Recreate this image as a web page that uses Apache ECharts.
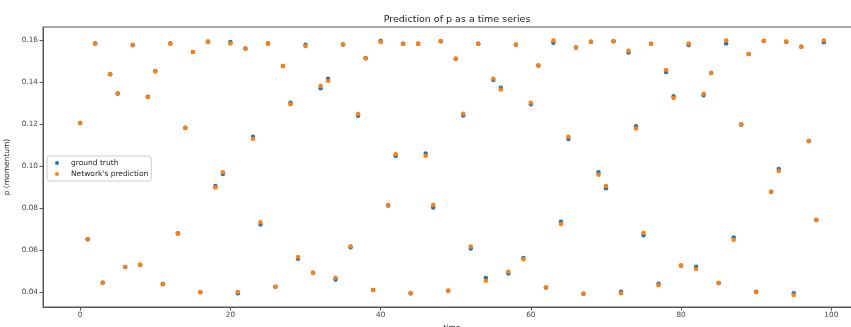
<!DOCTYPE html>
<html>
<head>
<meta charset="utf-8">
<script src="https://cdn.jsdelivr.net/npm/echarts@6/dist/echarts.min.js"></script>
<style>
html,body{margin:0;padding:0;background:#fff;}
#main{width:851px;height:327px;}
</style>
</head>
<body>
<div id="main"></div>
<script>
// p (momentum) values, one per time step 0..99
const groundTruth = [
  0.1205,0.0652,0.1583,0.0444,0.1437,0.1346,0.0519,0.1576,0.0530,0.1330,
  0.1451,0.0438,0.1584,0.0680,0.1182,0.1543,0.0399,0.1592,0.0905,0.0962,
  0.1590,0.0394,0.1560,0.1140,0.0722,0.1584,0.0425,0.1476,0.1301,0.0559,
  0.1578,0.0492,0.1370,0.1416,0.0460,0.1579,0.0614,0.1240,0.1513,0.0410,
  0.1595,0.0812,0.1048,0.1582,0.0394,0.1582,0.1060,0.0803,0.1594,0.0406,
  0.1511,0.1241,0.0608,0.1582,0.0467,0.1410,0.1373,0.0489,0.1578,0.0562,
  0.1294,0.1479,0.0422,0.1587,0.0735,0.1129,0.1564,0.0392,0.1592,0.0971,
  0.0894,0.1594,0.0402,0.1541,0.1189,0.0670,0.1582,0.0440,0.1448,0.1332,
  0.0527,0.1576,0.0521,0.1337,0.1443,0.0443,0.1584,0.0660,0.1198,0.1533,
  0.0402,0.1595,0.0878,0.0986,0.1592,0.0394,0.1568,0.1119,0.0743,0.1589
];
const prediction = [
  0.1205,0.0652,0.1583,0.0444,0.1437,0.1346,0.0519,0.1575,0.0530,0.1329,
  0.1451,0.0437,0.1584,0.0678,0.1181,0.1543,0.0399,0.1593,0.0898,0.0970,
  0.1584,0.0401,0.1560,0.1130,0.0733,0.1584,0.0425,0.1476,0.1294,0.0567,
  0.1571,0.0492,0.1381,0.1406,0.0468,0.1579,0.0618,0.1248,0.1513,0.0410,
  0.1590,0.0814,0.1056,0.1582,0.0394,0.1582,0.1049,0.0814,0.1594,0.0406,
  0.1511,0.1249,0.0617,0.1582,0.0454,0.1416,0.1365,0.0497,0.1578,0.0556,
  0.1301,0.1479,0.0422,0.1598,0.0724,0.1140,0.1564,0.0392,0.1592,0.0959,
  0.0905,0.1594,0.0394,0.1549,0.1179,0.0681,0.1582,0.0433,0.1457,0.1324,
  0.0527,0.1584,0.0510,0.1344,0.1443,0.0443,0.1598,0.0649,0.1198,0.1533,
  0.0400,0.1596,0.0878,0.0976,0.1593,0.0386,0.1568,0.1119,0.0744,0.1598
];
const xTicks = [0, 20, 40, 60, 80, 100];
const yTicks = [0.04, 0.06, 0.08, 0.10, 0.12, 0.14, 0.16];

const font = 'DejaVu Sans';
const toPts = arr => arr.map((v, i) => [i, v]);

let chart = echarts.init(document.getElementById('main'), null, {renderer: 'canvas'});
let option = {
  backgroundColor: '#fff',
  animation: false,
  textStyle: {fontFamily: font},
  title: {
    text: 'Prediction of p as a time series',
    left: 452,
    textAlign: 'center',
    top: 10,
    textStyle: {fontFamily: font, fontSize: 9.5, fontWeight: 'normal', color: '#222'}
  },
  grid: {left: 43, top: 27, width: 818, height: 280,
    outerBoundsMode: 'none', containLabel: false,
    show: true, borderColor: '#555', borderWidth: 1},
  legend: {
    left: 47, top: 156,
    orient: 'vertical',
    itemGap: 3,
    itemWidth: 4, itemHeight: 4,
    padding: [3, 3, 3, 8],
    backgroundColor: '#fff',
    borderColor: '#ccc', borderWidth: 1, borderRadius: 3,
    textStyle: {fontFamily: font, fontSize: 7.5, color: '#222', padding: [0, 0, 0, 7]},
    data: [{name: 'ground truth', icon: 'circle'}, {name: "Network's prediction", icon: 'circle'}]
  },
  xAxis: {
    type: 'value',
    min: -4.95, max: 103.95,
    name: 'time', nameLocation: 'middle', nameGap: 16,
    nameTextStyle: {fontFamily: font, fontSize: 7.5, color: '#222'},
    splitLine: {show: false},
    axisLine: {show: true, onZero: false, lineStyle: {color: '#555'}},
    axisTick: {show: true, length: 3.5, lineStyle: {color: '#555'}, customValues: xTicks},
    axisLabel: {fontFamily: font, fontSize: 7.3, color: '#444', margin: 5, customValues: xTicks,
      formatter: v => String(v)}
  },
  yAxis: {
    type: 'value',
    min: 0.0329, max: 0.1662,
    name: 'p (momentum)', nameLocation: 'middle', nameGap: 27,
    nameTextStyle: {fontFamily: font, fontSize: 7.5, color: '#222'},
    splitLine: {show: false},
    axisLine: {show: true, onZero: false, lineStyle: {color: '#555'}},
    axisTick: {show: true, length: 3.5, lineStyle: {color: '#555'}, customValues: yTicks},
    axisLabel: {fontFamily: font, fontSize: 7.3, color: '#444', margin: 5, customValues: yTicks,
      formatter: v => v.toFixed(2)}
  },
  series: [
    {
      name: 'ground truth', type: 'scatter',
      symbol: 'circle', symbolSize: 4.5,
      itemStyle: {color: '#1f77b4', opacity: 1},
      data: toPts(groundTruth)
    },
    {
      name: "Network's prediction", type: 'scatter',
      symbol: 'circle', symbolSize: 4.5,
      itemStyle: {color: '#ff7f0e', opacity: 1},
      data: toPts(prediction)
    }
  ]
};
chart.setOption(option);
</script>
</body>
</html>
